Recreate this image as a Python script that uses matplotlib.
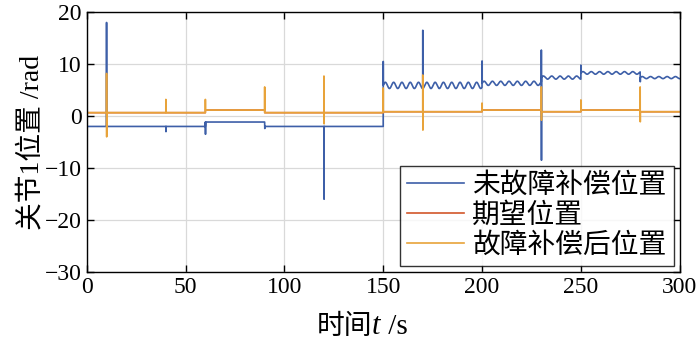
import matplotlib
matplotlib.use('Agg')
import matplotlib.pyplot as plt
import numpy as np

plt.rcParams['font.family'] = ['Liberation Serif', 'Noto Sans CJK SC']
plt.rcParams['axes.unicode_minus'] = True

# piecewise segments (start times) and steady levels
seg_start = [0, 60, 90, 150, 200, 230, 250, 280]
blue_level = [-2.0, -1.15, -2.0, 5.9, 6.3, 7.4, 8.3, 7.4]
blue_ripple = [0.0, 0.0, 0.0, 0.6, 0.4, 0.3, 0.25, 0.2]
orange_level = [0.65, 1.15, 0.65, 0.83, 1.15, 0.83, 1.15, 0.83]
ripple_period = 4.2

# switching events: time, peak up, peak down
ev_time = [10, 40, 60, 90, 120, 150, 170, 200, 230, 250, 280]
blue_up = [18.0, None, None, None, None, 10.5, 16.5, 10.6, 12.7, 9.8, None]
blue_down = [None, -3.0, -3.5, -2.4, -16.0, None, None, None, -8.5, None, 6.6]
orange_up = [8.2, 3.2, 3.2, 5.6, 7.7, 5.4, 7.9, 2.5, 5.6, 3.1, 5.6]
orange_down = [-4.0, None, None, None, -1.5, None, -2.7, None, -0.8, None, -1.1]

t = np.arange(0, 300.001, 0.02)


def trace(levels, ripple, ups, downs):
    k = np.searchsorted(seg_start, t, side='right') - 1
    s0 = np.array(seg_start)[k]
    y = np.array(levels)[k] + np.array(ripple)[k] * np.sin(2 * np.pi * (t - s0) / ripple_period)
    for te, u, d in zip(ev_time, ups, downs):
        i = np.searchsorted(t, te)
        if u is not None:
            y[i] = u
        if d is not None:
            y[i + 3] = d
    return y


blue = trace(blue_level, blue_ripple, blue_up, blue_down)
blue[0:5] = [-1.0, -1.5, -1.8, -1.9, -2.0]
desired = trace(orange_level, [0] * len(seg_start), [None] * 11, [None] * 11)
orange = trace(orange_level, [0] * len(seg_start), orange_up, orange_down)
orange[0:5] = [2.5, 1.8, 1.2, 0.9, 0.7]

fig = plt.figure(figsize=(7.0, 3.46), dpi=100)
ax = fig.add_axes([0.124, 0.214, 0.847, 0.751])

ax.plot(t, blue, color='#3D5FA8', lw=1.2, label='未故障补偿位置')
ax.plot(t, desired, color='#D2562A', lw=1.2, label='期望位置')
ax.plot(t, orange, color='#E8A33A', lw=1.2, label='故障补偿后位置')

ax.set_xlim(0, 300)
ax.set_ylim(-30, 20)
ax.set_xticks(np.arange(0, 301, 50))
ax.set_yticks(np.arange(-30, 21, 10))
ax.grid(True, color='#D9D9D9', lw=0.9)
ax.set_axisbelow(True)
ax.tick_params(direction='in', top=True, right=True, labelsize=17, length=5, width=1)
for sp in ax.spines.values():
    sp.set_linewidth(1.0)

ax.set_ylabel('关节1位置 /rad', fontsize=20, labelpad=0)

# x label pieced together: CJK text, italic t, then unit
W = fig.get_figwidth() * fig.dpi
yb = 0.035
lab1 = fig.text(372 / W, yb, '时间', fontsize=20, ha='right', va='baseline')
fig.canvas.draw()
x1 = lab1.get_window_extent().x1
lab2 = fig.text(x1 / W, yb, 't', fontsize=22, style='italic',
                family='Liberation Serif', va='baseline')
fig.canvas.draw()
x2 = lab2.get_window_extent().x1
fig.text(x2 / W, yb, ' /s', fontsize=21, family='Liberation Serif', va='baseline')

leg = ax.legend(loc='lower right', fontsize=20, frameon=True, fancybox=False,
                edgecolor='black', handlelength=2.05, handletextpad=0.32,
                borderpad=0.25, labelspacing=0.16, borderaxespad=0.22)
leg.get_frame().set_linewidth(1.0)

fig.savefig('out.png', dpi=100)
